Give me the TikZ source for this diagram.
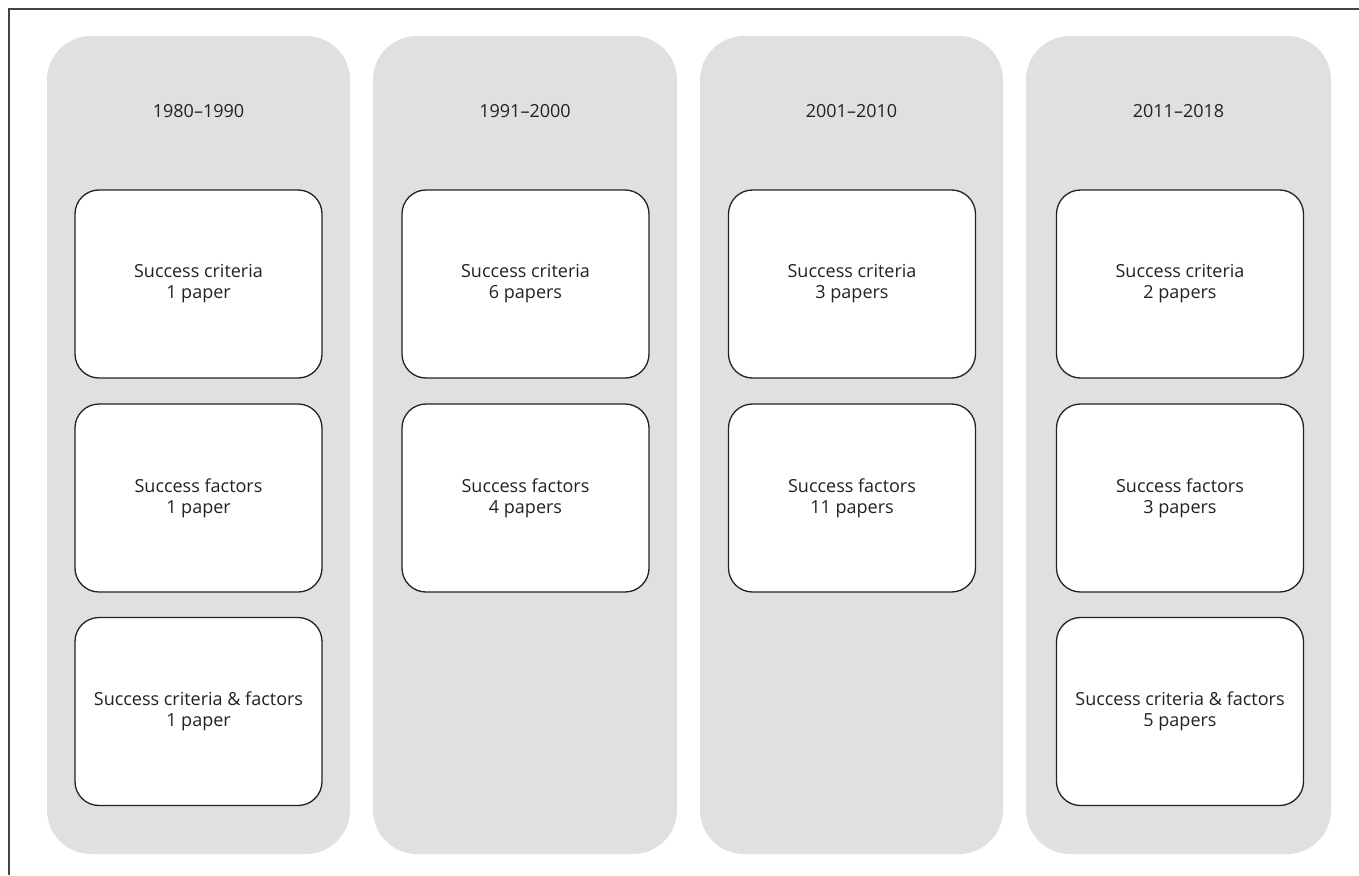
\documentclass[tikz,border=0pt]{standalone}
\usepackage{fontspec}
\setmainfont{Open Sans}
\definecolor{colgray}{HTML}{DFE0E2}
\definecolor{txt}{HTML}{222222}
\definecolor{frame}{HTML}{444444}
\begin{document}
\begin{tikzpicture}[x=1pt,y=-1pt,
  column/.style={fill=colgray, draw=none, rounded corners=44pt},
  card/.style={draw=txt, fill=white, line width=1.3pt, rounded corners=24pt,
     minimum width=247pt, minimum height=188pt, inner sep=0pt,
     align=center, text=txt, font=\fontsize{18}{21}\selectfont},
  period/.style={text=txt, font=\fontsize{18}{21}\selectfont, inner sep=0pt}
  ]
\useasboundingbox (0,0) rectangle (1359,875);
\fill[white] (0,0) rectangle (1359,875);
\draw[frame, line width=1.6pt] (9,875) -- (9,9) -- (1359,9);
% columns
\fill[colgray, rounded corners=44pt] (47,36) rectangle (350,854);
\fill[colgray, rounded corners=44pt] (373,36) rectangle (677,854);
\fill[colgray, rounded corners=44pt] (700,36) rectangle (1003,854);
\fill[colgray, rounded corners=44pt] (1026,36) rectangle (1331,854);
% titles
\node[period] (t1) at (198.5,111) {1980–1990};
\node[period] (t2) at (525,111) {1991–2000};
\node[period] (t3) at (851.5,111) {2001–2010};
\node[period] (t4) at (1178.5,111) {2011–2018};
% cards
\node[card] (a1) at (198.5,284) {Success criteria\\1 paper};
\node[card] (a2) at (198.5,498) {Success factors\\1 paper};
\node[card] (a3) at (198.5,711.5) {Success criteria \& factors\\1 paper};
\node[card] (b1) at (525.5,284) {Success criteria\\6 papers};
\node[card] (b2) at (525.5,498) {Success factors\\4 papers};
\node[card] (c1) at (852,284) {Success criteria\\3 papers};
\node[card] (c2) at (852,498) {Success factors\\11 papers};
\node[card] (d1) at (1180,284) {Success criteria\\2 papers};
\node[card] (d2) at (1180,498) {Success factors\\3 papers};
\node[card] (d3) at (1180,711.5) {Success criteria \& factors\\5 papers};
\end{tikzpicture}
\end{document}
